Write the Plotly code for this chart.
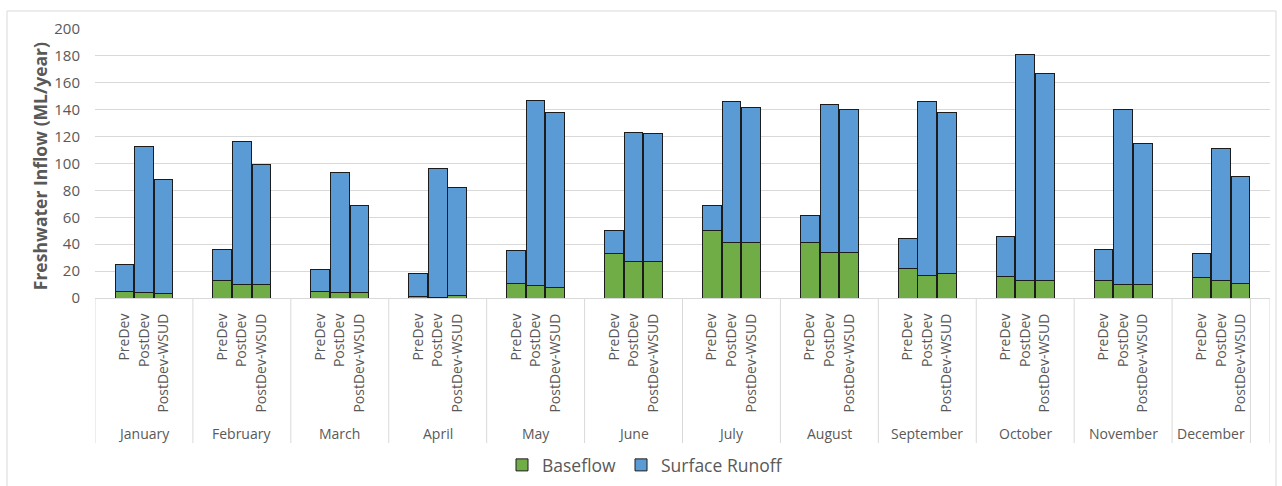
import numpy as np
import plotly.graph_objects as go

# Monthly freshwater inflow (ML/year) split into baseflow and surface runoff
months = ["January", "February", "March", "April", "May", "June",
          "July", "August", "September", "October", "November", "December"]
scenarios = ["PreDev", "PostDev", "PostDev-WSUD"]

baseflow_predev = [5, 13, 5, 1.2, 11, 33, 50, 41, 22, 16, 13, 15]
runoff_predev = [20, 23, 16, 16.8, 24, 17, 19, 20, 22, 30, 23, 18]

baseflow_postdev = [4, 10, 4, 0.7, 9, 27, 41, 34, 17, 13, 10, 13]
runoff_postdev = [109, 106, 89, 95.3, 138, 96, 105, 110, 129, 168, 130, 98]

baseflow_wsud = [3, 10, 4, 1.5, 8, 27, 41, 34, 18, 13, 10, 11]
runoff_wsud = [85, 89, 65, 80.5, 130, 95, 101, 106, 120, 154, 105, 79]

y_ticks = [0, 20, 40, 60, 80, 100, 120, 140, 160, 180, 200]

# ---- layout helpers -------------------------------------------------------
GREEN = "#70AD47"
BLUE = "#5B9BD5"
EDGE = "#1c1c1c"
GRID = "#D9D9D9"
TEXT = "#595959"
FONT = "Open Sans"

offsets = [-0.2, 0.0, 0.2]          # bar slots inside each month group
n_months = len(months)

base_sets = [baseflow_predev, baseflow_postdev, baseflow_wsud]
run_sets = [runoff_predev, runoff_postdev, runoff_wsud]

xs, base_vals, run_vals, tick_text = [], [], [], []
for m in range(n_months):
    for s, off in enumerate(offsets):
        xs.append(m + off)
        base_vals.append(base_sets[s][m])
        run_vals.append(run_sets[s][m])
        tick_text.append(scenarios[s])

fig = go.Figure()
fig.add_trace(go.Bar(
    x=xs, y=base_vals, name="Baseflow", width=0.19,
    marker=dict(color=GREEN, line=dict(color=EDGE, width=1)),
))
fig.add_trace(go.Bar(
    x=xs, y=run_vals, name="Surface Runoff", width=0.19,
    marker=dict(color=BLUE, line=dict(color=EDGE, width=1)),
))

L, R, T, B = 95, 12, 29, 188
W, H = 1282, 486
pw, ph = W - L - R, H - T - B


def px_to_py(py):
    """pixel row -> paper y"""
    return (H - B - py) / ph


def px_to_px(px):
    """pixel column -> paper x"""
    return (px - L) / pw


shapes = []
# group dividers below the category axis
div_bottom = px_to_py(443)
for d in list(np.arange(-0.5, n_months - 1, 1.0)) + [11.3, 11.5]:
    shapes.append(dict(type="line", xref="x", yref="paper",
                       x0=d, x1=d, y0=0, y1=div_bottom,
                       line=dict(color=GRID, width=1), layer="below"))
# chart frame
shapes.append(dict(type="rect", xref="paper", yref="paper",
                   x0=px_to_px(7), x1=px_to_px(1276),
                   y0=px_to_py(500), y1=px_to_py(11),
                   line=dict(color=GRID, width=1), fillcolor="rgba(0,0,0,0)",
                   layer="below"))

annotations = []
label_y = px_to_py(433)
for m, name in enumerate(months):
    xc = m if m < n_months - 1 else (10.5 + 11.3) / 2
    annotations.append(dict(text=name, x=xc, xref="x", y=label_y, yref="paper",
                            showarrow=False, xanchor="center", yanchor="middle",
                            font=dict(family=FONT, size=14, color=TEXT)))
annotations.append(dict(text="<b>Freshwater Inflow (ML/year)</b>",
                        x=px_to_px(40), xref="paper", y=0.49, yref="paper",
                        textangle=-90, showarrow=False,
                        xanchor="center", yanchor="middle",
                        font=dict(family=FONT, size=17.5, color=TEXT)))

fig.update_layout(
    width=W, height=H,
    margin=dict(l=L, r=R, t=T, b=B, autoexpand=False),
    barmode="stack",
    plot_bgcolor="white", paper_bgcolor="white",
    font=dict(family=FONT, color=TEXT),
    showlegend=True,
    legend=dict(orientation="h", x=px_to_px(645), xanchor="center",
                y=px_to_py(465), yanchor="middle", traceorder="normal",
                font=dict(family=FONT, size=17.5, color=TEXT),
                itemclick=False, bgcolor="rgba(0,0,0,0)"),
    shapes=shapes,
    annotations=annotations,
    xaxis=dict(range=[-0.5, n_months - 0.5], tickmode="array",
               tickvals=xs, ticktext=tick_text, tickangle=-90,
               ticks="", ticklabelstandoff=9,
               tickfont=dict(family=FONT, size=14, color=TEXT),
               showgrid=False, zeroline=False,
               showline=True, linecolor=GRID, linewidth=1),
    yaxis=dict(range=[0, 200], tickmode="array", tickvals=y_ticks,
               ticks="", ticklabelstandoff=14,
               tickfont=dict(family=FONT, size=15, color=TEXT),
               showgrid=True, gridcolor=GRID, gridwidth=1,
               zeroline=False, showline=False),
)

fig.write_html("out.html")
